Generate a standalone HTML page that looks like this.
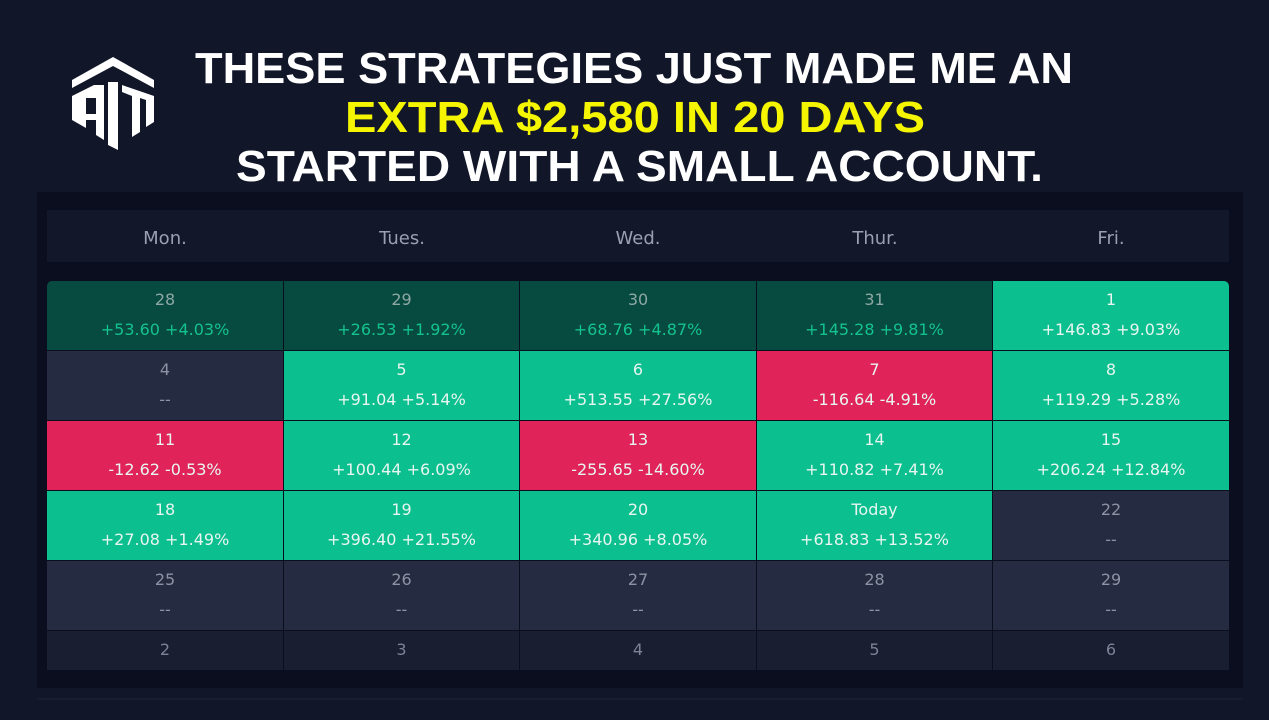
<!DOCTYPE html>
<html><head><meta charset="utf-8"><style>
body{margin:0;width:1269px;height:720px;background:#111629;overflow:hidden;position:relative;font-family:"DejaVu Sans","Liberation Sans",sans-serif}
.panel{position:absolute;left:37px;top:192px;width:1206px;height:496px;background:#0a0e1f}
.hdr{position:absolute;left:47px;top:210px;width:1182px;height:52px;background:#121729}
.h{position:absolute;top:213px;height:52px;line-height:52px;text-align:center;color:#9aa0b0;font-size:18px;width:236px}
.c{position:absolute;text-align:center;font-size:16px;color:#e8f5f0}
.c .d{position:absolute;left:0;right:0;top:9px}
.c .v{position:absolute;left:0;right:0;top:39px}
.dg{background:#064a40}.dg .d{color:#8fa8a4}.dg .v{color:#14c28e}
.g{background:#0bbf8f}
.r{background:#e0245a}
.e{background:#252b40}.e .d,.e .v{color:#8d93a5}
.l{background:#191e30}.l .d{color:#7d8396;top:9px}
.bl{position:absolute;left:37px;top:698px;width:1206px;height:2px;background:#181d30}
</style></head><body>
<div class="panel"></div>
<div class="hdr"></div>
<div class="bl"></div>
<svg style="position:absolute;left:0;top:0" width="1269" height="200">
<g fill="#fff">
<polygon points="113,57 154,80 154,88 113,66 72,88 72,80"/>
<polygon points="72,96 94,85 104,85 104,140 96,135 96,120 86,120 86,128 72,120"/>
<polygon points="108,82 118,82 118,150 108,145"/>
<polygon points="122,85 154,96 154,122 146,127 146,100 140,98 140,132 132,137 132,96 122,92"/>
</g>
<rect x="86" y="98" width="10" height="16" fill="#111629"/>
<g font-family="Liberation Sans, sans-serif" font-weight="bold" font-size="44" text-anchor="start">
<text x="195" y="83" fill="#fff" textLength="878" lengthAdjust="spacingAndGlyphs">THESE STRATEGIES JUST MADE ME AN</text>
<text x="345" y="132" fill="#f5f500" textLength="580" lengthAdjust="spacingAndGlyphs">EXTRA $2,580 IN 20 DAYS</text>
<text x="236" y="181" fill="#fff" textLength="807" lengthAdjust="spacingAndGlyphs">STARTED WITH A SMALL ACCOUNT.</text>
</g>
</svg>
<div class="h" style="left:47px">Mon.</div>
<div class="h" style="left:284px">Tues.</div>
<div class="h" style="left:520px">Wed.</div>
<div class="h" style="left:757px">Thur.</div>
<div class="h" style="left:993px">Fri.</div>

<div class="c dg" style="left:47px;top:281px;width:236px;height:69px;border-top-left-radius:5px"><div class="d">28</div><div class="v">+53.60 +4.03%</div></div>
<div class="c dg" style="left:284px;top:281px;width:235px;height:69px"><div class="d">29</div><div class="v">+26.53 +1.92%</div></div>
<div class="c dg" style="left:520px;top:281px;width:236px;height:69px"><div class="d">30</div><div class="v">+68.76 +4.87%</div></div>
<div class="c dg" style="left:757px;top:281px;width:235px;height:69px"><div class="d">31</div><div class="v">+145.28 +9.81%</div></div>
<div class="c g" style="left:993px;top:281px;width:236px;height:69px;border-top-right-radius:5px"><div class="d">1</div><div class="v">+146.83 +9.03%</div></div>

<div class="c e" style="left:47px;top:351px;width:236px;height:69px"><div class="d">4</div><div class="v">--</div></div>
<div class="c g" style="left:284px;top:351px;width:235px;height:69px"><div class="d">5</div><div class="v">+91.04 +5.14%</div></div>
<div class="c g" style="left:520px;top:351px;width:236px;height:69px"><div class="d">6</div><div class="v">+513.55 +27.56%</div></div>
<div class="c r" style="left:757px;top:351px;width:235px;height:69px"><div class="d">7</div><div class="v">-116.64 -4.91%</div></div>
<div class="c g" style="left:993px;top:351px;width:236px;height:69px"><div class="d">8</div><div class="v">+119.29 +5.28%</div></div>

<div class="c r" style="left:47px;top:421px;width:236px;height:69px"><div class="d">11</div><div class="v">-12.62 -0.53%</div></div>
<div class="c g" style="left:284px;top:421px;width:235px;height:69px"><div class="d">12</div><div class="v">+100.44 +6.09%</div></div>
<div class="c r" style="left:520px;top:421px;width:236px;height:69px"><div class="d">13</div><div class="v">-255.65 -14.60%</div></div>
<div class="c g" style="left:757px;top:421px;width:235px;height:69px"><div class="d">14</div><div class="v">+110.82 +7.41%</div></div>
<div class="c g" style="left:993px;top:421px;width:236px;height:69px"><div class="d">15</div><div class="v">+206.24 +12.84%</div></div>

<div class="c g" style="left:47px;top:491px;width:236px;height:69px"><div class="d">18</div><div class="v">+27.08 +1.49%</div></div>
<div class="c g" style="left:284px;top:491px;width:235px;height:69px"><div class="d">19</div><div class="v">+396.40 +21.55%</div></div>
<div class="c g" style="left:520px;top:491px;width:236px;height:69px"><div class="d">20</div><div class="v">+340.96 +8.05%</div></div>
<div class="c g" style="left:757px;top:491px;width:235px;height:69px"><div class="d">Today</div><div class="v">+618.83 +13.52%</div></div>
<div class="c e" style="left:993px;top:491px;width:236px;height:69px"><div class="d">22</div><div class="v">--</div></div>

<div class="c e" style="left:47px;top:561px;width:236px;height:69px"><div class="d">25</div><div class="v">--</div></div>
<div class="c e" style="left:284px;top:561px;width:235px;height:69px"><div class="d">26</div><div class="v">--</div></div>
<div class="c e" style="left:520px;top:561px;width:236px;height:69px"><div class="d">27</div><div class="v">--</div></div>
<div class="c e" style="left:757px;top:561px;width:235px;height:69px"><div class="d">28</div><div class="v">--</div></div>
<div class="c e" style="left:993px;top:561px;width:236px;height:69px"><div class="d">29</div><div class="v">--</div></div>

<div class="c l" style="left:47px;top:631px;width:236px;height:39px"><div class="d">2</div></div>
<div class="c l" style="left:284px;top:631px;width:235px;height:39px"><div class="d">3</div></div>
<div class="c l" style="left:520px;top:631px;width:236px;height:39px"><div class="d">4</div></div>
<div class="c l" style="left:757px;top:631px;width:235px;height:39px"><div class="d">5</div></div>
<div class="c l" style="left:993px;top:631px;width:236px;height:39px"><div class="d">6</div></div>
</body></html>
